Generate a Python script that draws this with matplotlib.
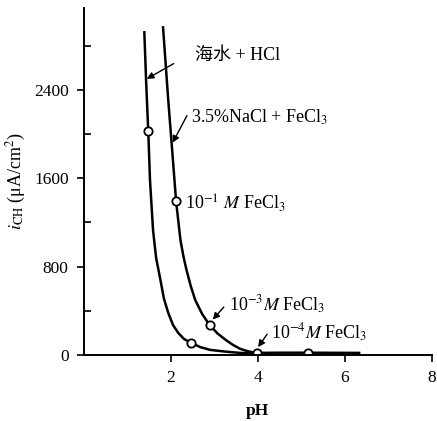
import numpy as np
import matplotlib.pyplot as plt
from matplotlib.ticker import MultipleLocator

plt.rcParams['font.family'] = ['Liberation Serif', 'Noto Sans CJK SC']
plt.rcParams['mathtext.fontset'] = 'stix'

# curve: seawater + HCl
ph_sea = [1.39, 1.43, 1.48, 1.52, 1.59, 1.66, 1.76, 1.84, 1.94, 2.05, 2.17, 2.30,
          2.47, 2.68, 2.91, 3.30, 3.60, 3.97, 4.3]
i_sea = [2920, 2486, 2025, 1582, 1130, 880, 678, 510, 380, 270, 199, 145,
         108, 70, 45, 28, 18, 12, 10]

# 3.5% NaCl + FeCl3
ph_nacl = [1.82, 1.94, 2.03, 2.12, 2.22, 2.29, 2.36, 2.46, 2.56, 2.72, 2.89, 3.07,
           3.26, 3.43, 3.60, 3.78, 3.97, 4.5, 5.15, 6.33]
i_nacl = [2965, 2305, 1853, 1392, 1040, 890, 768, 620, 497, 370, 271, 195,
          136, 90, 54, 32, 18, 20, 20, 18]

# measured points (open circles)
pts_sea_x = [1.48, 2.47]
pts_sea_y = [2025, 108]
pts_nacl_x = [2.12, 2.89, 3.97, 5.15]
pts_nacl_y = [1392, 271, 18, 20]

fig = plt.figure(figsize=(4.37, 4.21), dpi=100)
ax = fig.add_axes([0.192, 0.157, 0.796, 0.824])

ax.plot(ph_sea, i_sea, color='black', lw=1.8)
ax.plot(ph_nacl, i_nacl, color='black', lw=1.8)
ax.plot(pts_sea_x + pts_nacl_x, pts_sea_y + pts_nacl_y, 'o', ms=6,
        mfc='white', mec='black', mew=1.3)

ax.set_xlim(0, 8)
ax.set_ylim(0, 3140)
ax.spines['top'].set_visible(False)
ax.spines['right'].set_visible(False)
ax.spines['left'].set_linewidth(1.4)
ax.spines['bottom'].set_linewidth(1.4)

ax.set_xticks([2, 4, 6, 8])
ax.set_yticks([0, 800, 1600, 2400])
ax.yaxis.set_minor_locator(MultipleLocator(400))
ax.tick_params(axis='both', which='major', direction='out', length=5, width=1.2,
               labelsize=12.5, pad=6)
ax.tick_params(axis='y', which='minor', direction='in', length=5, width=1.2)

ax.set_xlabel('pH', fontsize=12.5, fontweight='bold', labelpad=12)
ax.set_ylabel(r'$i_{\rm CH}$ (μA/cm$^2$)', fontsize=13, labelpad=4)

arrow = dict(arrowstyle='-|>', color='black', lw=1.0, mutation_scale=10)
fs = 13
ax.annotate('', xy=(1.39, 2486), xytext=(2.12, 2649), arrowprops=arrow)
ax.text(2.55, 2712, '海水 + HCl', fontsize=fs, va='center', ha='left')
ax.annotate('', xy=(2.01, 1898), xytext=(2.40, 2188), arrowprops=arrow)
ax.text(2.47, 2150, r'3.5%NaCl + FeCl$_3$', fontsize=fs, va='center', ha='left')
ax.text(2.32, 1374, r'10$^{-1}$ $M$ FeCl$_3$', fontsize=fs, va='center', ha='left')
ax.annotate('', xy=(2.92, 300), xytext=(3.26, 452), arrowprops=arrow)
ax.text(3.33, 452, r'10$^{-3}$$M$ FeCl$_3$', fontsize=fs, va='center', ha='left')
ax.annotate('', xy=(3.97, 50), xytext=(4.25, 208), arrowprops=arrow)
ax.text(4.30, 200, r'10$^{-4}$$M$ FeCl$_3$', fontsize=fs, va='center', ha='left')

fig.savefig('out.png', dpi=100)
